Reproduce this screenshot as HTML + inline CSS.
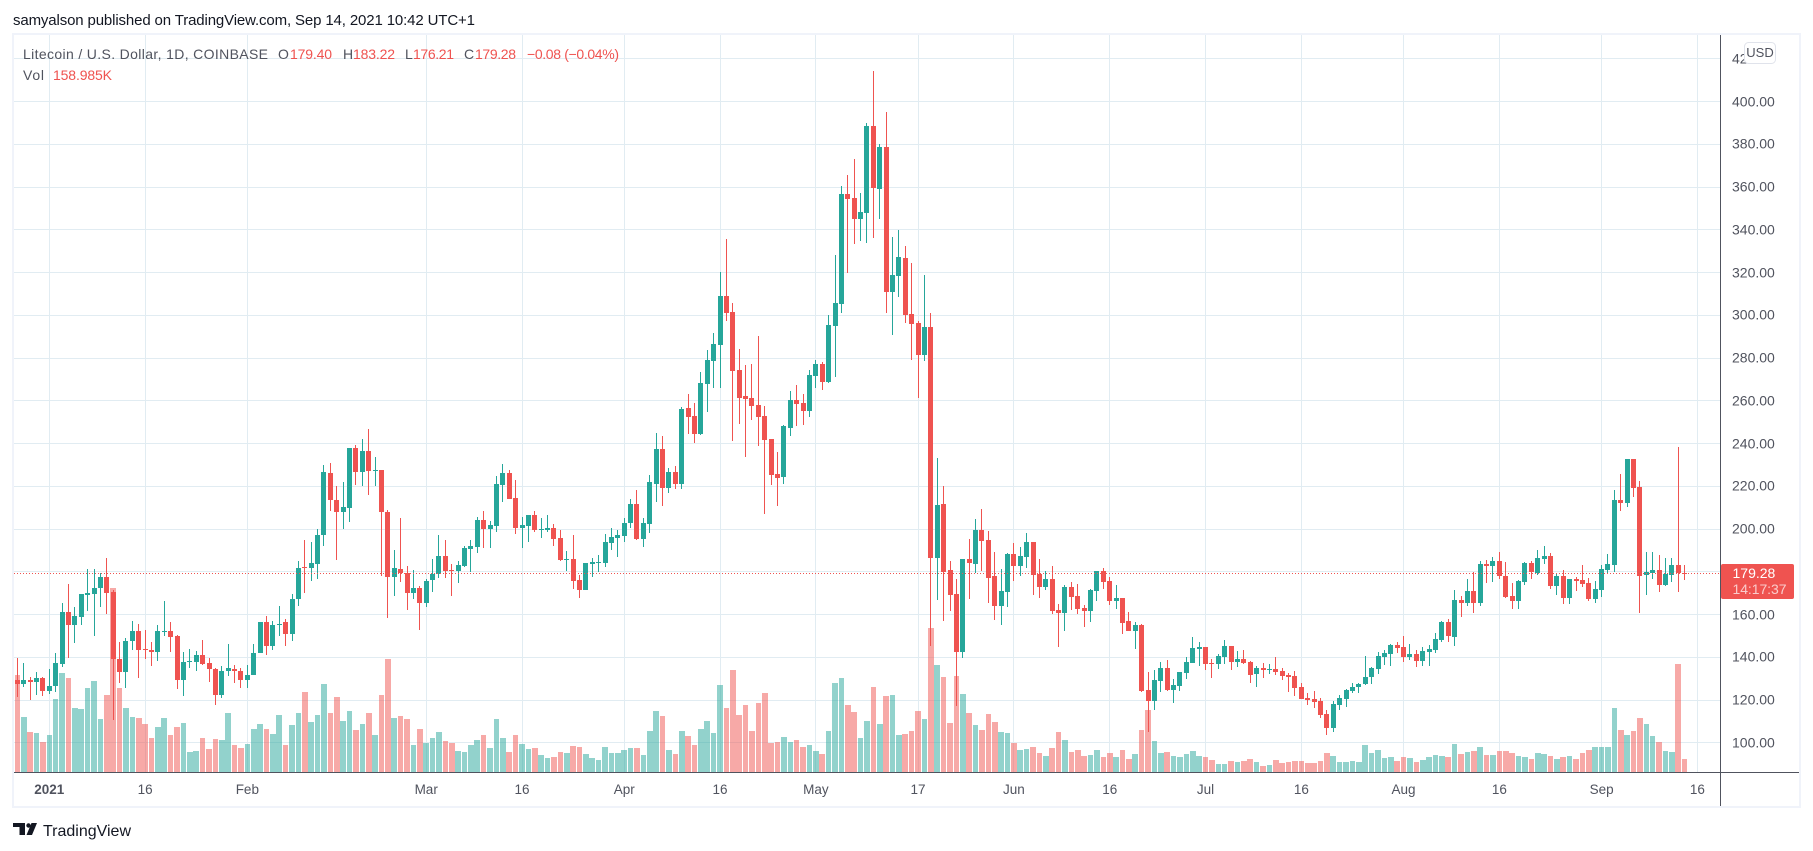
<!DOCTYPE html>
<html lang="en">
<head>
<meta charset="utf-8">
<title>Litecoin / U.S. Dollar chart</title>
<style>
html,body{margin:0;padding:0;background:#fff;width:1813px;height:851px;overflow:hidden}
svg{display:block}
text{font-family:"Liberation Sans",sans-serif}
</style>
</head>
<body>
<svg id="chart" xmlns="http://www.w3.org/2000/svg" width="1813" height="851" viewBox="0 0 1813 851">
  <rect x="0" y="0" width="1813" height="851" fill="#ffffff"/>
  <text x="13" y="25" font-size="15" fill="#131722" textLength="462" lengthAdjust="spacing">samyalson published on TradingView.com, Sep 14, 2021 10:42 UTC+1</text>
  <rect x="13" y="34" width="1787" height="773" fill="none" stroke="#f0f3fa" stroke-width="2"/>
  <g id="grid"></g>
  <g id="volumes"></g>
  <g id="candles"></g>
  <line x1="14" x2="1720" y1="573.5" y2="573.5" stroke="#ef5350" stroke-width="1" stroke-dasharray="1 2"/>
  <rect x="14" y="772" width="1785" height="1" fill="#50535e"/>
  <rect x="1720" y="35" width="1" height="771" fill="#50535e"/>
  <g id="priceLabels"></g>
  <g id="timeLabels"></g>
  <g font-size="14">
    <text x="23" y="59" fill="#50535e" textLength="245" lengthAdjust="spacing">Litecoin / U.S. Dollar, 1D, COINBASE</text>
    <text x="278" y="59" fill="#50535e">O</text>
    <text x="290" y="59" fill="#ef5350" textLength="42" lengthAdjust="spacing">179.40</text>
    <text x="343" y="59" fill="#50535e">H</text>
    <text x="353" y="59" fill="#ef5350" textLength="42" lengthAdjust="spacing">183.22</text>
    <text x="405" y="59" fill="#50535e">L</text>
    <text x="413" y="59" fill="#ef5350" textLength="41" lengthAdjust="spacing">176.21</text>
    <text x="464" y="59" fill="#50535e">C</text>
    <text x="475" y="59" fill="#ef5350" textLength="41" lengthAdjust="spacing">179.28</text>
    <text x="527" y="59" fill="#ef5350" textLength="92" lengthAdjust="spacing">−0.08 (−0.04%)</text>
    <text x="23" y="80" fill="#50535e" textLength="21" lengthAdjust="spacing">Vol</text>
    <text x="53" y="80" fill="#ef5350" textLength="59" lengthAdjust="spacing">158.985K</text>
  </g>
  <g>
    <rect x="1744.5" y="42.5" width="31" height="21" rx="4" fill="#ffffff" stroke="#e0e3eb"/>
    <text x="1760" y="57" font-size="13" text-anchor="middle" fill="#50535e">USD</text>
  </g>
  <g>
    <rect x="1721" y="564" width="73" height="35" rx="2" fill="#ef5350"/>
    <text x="1732.5" y="578" font-size="14" fill="#ffffff">179.28</text>
    <text x="1732.5" y="594" font-size="14" fill="#ffffff" fill-opacity="0.7" textLength="54" lengthAdjust="spacing">14:17:37</text>
  </g>
  <g>
    <path d="M13 823h12v12h-5.5v-8h-6.5z" fill="#131722"/>
    <circle cx="28.5" cy="825.5" r="2.2" fill="#131722"/>
    <path d="M31.5 823h5.5l-5 12h-5.5z" fill="#131722"/>
    <text x="43" y="836" font-size="16" fill="#131722" textLength="88" lengthAdjust="spacingAndGlyphs">TradingView</text>
  </g>
</svg>
<script>
// Data: first candle is 27 Dec 2020 (day -5 relative to 1 Jan 2021); one candle per day.
const firstDay = -5;
const opens = [
129.6,127.6,129.6,128.5,130.1,124.3,126.6,136.9,161.4,155.2,
158.9,169.2,169.7,172.5,177.8,170.4,139.4,133.2,147.7,152.5,
143.7,143.6,142.5,151.9,152.1,149.9,129.4,137.9,137.9,141.3,
137.1,134.7,122.4,133.6,134.7,133.8,129.4,131.8,142.1,156.3,
145.3,155.2,156.3,150.9,167.3,182.1,181.8,183.7,197.3,226.4,
213.8,208.0,209.9,237.7,226.7,236.7,227.2,227.8,208.2,177.6,
181.5,179.6,170.1,172.2,165.5,176.2,179.2,187.6,180.7,180.4,
182.8,190.7,191.7,204.1,200.1,201.3,220.5,226.1,214.4,200.6,
201.3,206.5,199.5,199.5,200.4,195.7,185.6,185.9,176.1,171.4,
183.7,184.0,184.0,193.4,195.7,196.6,202.7,211.6,195.2,202.3,
221.0,237.3,219.1,226.6,221.0,256.5,252.8,244.4,267.8,278.5,
286.0,308.9,301.5,274.3,262.2,261.2,257.9,252.8,242.0,225.6,
224.3,247.2,260.3,258.9,255.1,271.5,277.1,268.7,294.9,305.2,
356.6,354.8,344.9,347.8,388.5,359.0,378.6,310.8,318.3,326.7,
300.5,296.3,281.3,294.4,186.4,211.6,180.7,169.5,142.4,185.9,
183.5,199.4,194.8,177.9,163.9,170.4,188.2,182.6,186.8,193.8,
178.9,172.8,176.5,162.0,160.6,172.8,168.6,163.0,161.6,170.9,
180.3,175.6,166.2,167.6,156.9,152.2,155.0,124.6,119.4,128.8,
134.9,124.6,126.5,132.5,137.2,143.8,144.7,137.2,136.8,140.0,
145.2,137.7,139.1,137.7,132.1,134.9,134.0,134.4,133.5,131.6,
131.2,126.0,120.9,120.4,119.4,113.4,106.8,117.6,120.4,124.1,
126.0,127.4,130.7,134.4,140.0,141.6,145.7,144.7,140.0,141.4,
138.2,142.4,143.3,148.0,156.4,149.4,166.7,165.3,170.9,165.3,
183.5,182.6,184.9,177.9,168.6,166.2,175.1,184.0,179.3,185.9,
187.3,173.2,177.9,167.6,176.5,176.1,174.7,167.2,171.4,180.7,
183.1,213.5,212.1,232.7,219.6,178.4,179.3,180.7,173.7,178.4,
183.1,179.40];
const highs = [
139.6,137.2,130.7,133.0,130.8,134.3,142.2,165.3,174.5,163.4,
169.7,181.5,181.5,179.6,186.3,171.4,147.1,148.8,156.9,155.5,
153.0,147.1,155.0,166.2,156.4,150.6,142.4,143.8,142.8,148.0,
139.9,135.2,136.1,146.1,136.6,135.2,136.6,146.1,156.7,159.1,
157.2,164.2,157.7,169.5,184.9,195.1,193.8,200.2,229.9,231.1,
220.0,222.2,237.8,239.1,241.9,247.0,233.9,227.8,209.1,190.1,
205.4,182.9,180.7,173.2,176.7,185.9,197.0,194.8,183.6,184.9,
192.3,195.1,205.5,208.3,203.7,224.7,230.3,227.8,222.8,205.5,
206.8,208.3,205.1,206.5,202.3,199.5,189.6,197.1,178.4,184.0,
186.4,187.8,197.6,200.4,199.5,205.1,214.0,218.2,205.1,225.2,
244.8,243.4,228.5,229.4,257.0,263.1,258.9,273.4,283.6,291.6,
320.2,335.6,305.7,284.1,276.6,277.1,290.2,257.5,242.0,235.9,
248.6,264.5,267.3,263.1,274.3,279.0,278.1,300.0,328.1,360.4,
365.5,373.0,357.1,389.9,414.2,380.1,395.0,336.5,339.8,332.3,
324.4,297.2,318.8,301.0,233.1,220.0,184.9,176.5,185.9,195.2,
204.6,209.3,199.0,189.2,181.2,188.7,193.4,191.5,198.1,193.8,
185.9,180.3,182.6,164.8,173.7,175.1,174.2,164.4,171.8,180.3,
181.7,177.5,173.7,167.6,161.1,156.4,155.5,133.0,134.0,137.7,
138.6,129.7,133.0,140.0,149.4,147.1,144.7,139.1,141.4,148.0,
145.2,142.8,143.3,138.2,135.8,137.2,136.8,140.0,134.9,132.6,
133.5,127.9,123.2,124.1,120.9,115.2,119.4,122.3,125.1,127.9,
128.2,140.5,135.4,142.4,143.3,146.1,147.1,149.9,146.1,143.3,
144.7,145.7,151.3,156.9,157.8,171.4,168.6,176.5,179.8,184.9,
185.4,186.8,189.2,184.5,174.7,176.1,184.5,184.9,190.1,192.0,
188.7,179.3,180.7,176.5,177.5,183.1,177.0,175.6,183.1,188.2,
218.2,225.7,232.7,232.7,222.4,189.2,189.2,187.8,186.4,186.4,
238.3,183.22];
const lows = [
121.5,126.2,120.1,122.4,121.9,122.9,123.8,135.5,139.7,146.7,
155.3,161.7,150.0,163.6,160.3,110.7,128.0,125.5,143.3,130.2,
139.3,135.8,138.3,150.0,142.5,125.1,121.9,135.0,133.6,136.5,
128.5,117.7,121.0,131.3,128.0,125.7,125.7,131.8,142.2,141.1,
143.6,150.0,145.3,147.7,164.1,170.1,175.8,176.7,192.1,208.5,
185.6,200.1,203.4,220.5,220.2,216.0,220.0,178.2,158.4,168.7,
175.3,162.2,167.3,152.8,163.6,170.6,177.2,177.2,168.7,174.8,
182.3,179.9,188.8,191.0,191.0,198.7,212.7,214.0,197.6,191.0,
194.0,198.5,195.7,198.5,192.0,184.9,180.3,171.8,167.6,171.3,
177.5,179.8,182.1,190.1,186.8,193.8,200.4,194.8,191.5,198.1,
212.6,210.7,216.8,218.6,218.6,244.4,240.2,243.9,254.7,265.9,
265.9,297.2,241.1,249.1,233.8,250.9,238.8,206.9,220.5,210.7,
221.0,243.4,248.1,248.6,252.3,265.9,264.9,268.2,271.0,301.0,
319.7,333.3,334.7,333.7,336.1,344.9,301.0,290.7,308.5,296.3,
279.0,261.2,278.5,145.2,166.7,156.9,161.6,117.1,139.6,167.2,
179.3,180.3,165.3,157.3,155.0,163.4,175.6,177.9,181.7,169.0,
167.6,171.4,160.2,144.7,152.2,162.0,160.2,154.1,156.4,166.2,
171.8,164.4,162.5,150.8,152.2,143.8,123.7,104.9,115.2,123.7,
124.1,118.5,124.1,129.7,137.2,135.8,134.0,130.2,134.4,136.8,
134.0,135.4,136.8,127.9,126.0,130.2,132.1,131.6,129.3,123.7,
121.8,120.4,117.6,116.2,111.5,103.5,105.0,115.2,116.6,123.2,
123.2,127.0,127.4,132.1,136.3,135.8,141.9,137.7,138.6,135.4,
135.8,135.8,141.9,147.1,147.1,145.2,158.8,163.9,160.6,163.9,
174.7,175.1,176.5,167.6,162.5,162.5,173.7,176.5,178.4,183.5,
171.8,169.0,164.8,164.8,170.9,172.8,166.2,165.3,168.1,179.3,
179.8,208.3,210.2,214.9,160.6,169.0,176.5,170.4,173.2,175.1,
170.4,176.21];
const closes = [
127.6,129.6,128.5,130.1,124.3,126.8,137.1,161.4,155.2,159.1,
169.5,170.0,172.6,177.8,170.1,139.3,133.2,147.4,152.5,143.5,
143.3,142.5,152.1,152.2,149.6,129.4,138.0,138.2,141.3,136.9,
134.6,122.4,133.8,135.2,133.6,129.4,131.9,142.2,156.4,145.3,
155.3,155.8,150.9,167.5,182.0,181.7,183.9,197.4,226.9,213.6,
208.0,210.1,237.7,226.7,236.7,227.2,227.8,208.0,177.6,182.0,
179.5,170.1,172.2,165.5,175.9,179.2,187.6,180.4,180.3,183.1,
191.0,192.0,204.1,200.1,201.8,221.0,226.1,214.1,200.6,201.8,
206.5,199.6,200.0,200.4,195.2,185.4,185.9,175.6,171.4,183.9,
184.5,184.5,193.8,196.2,197.1,202.7,211.6,195.2,202.7,221.9,
237.3,219.1,226.6,221.0,256.1,252.3,244.4,268.2,279.0,286.5,
308.9,301.0,273.9,261.2,260.7,257.5,252.3,241.6,225.2,223.8,
248.1,260.3,258.4,255.1,272.0,277.1,268.7,295.4,305.7,356.6,
354.3,344.9,348.2,388.5,359.5,378.6,310.8,318.8,327.2,300.0,
295.8,281.3,294.4,186.4,211.2,179.8,169.0,142.4,185.9,184.0,
199.4,194.3,177.0,163.9,170.9,188.2,182.6,187.3,193.8,178.4,
172.8,176.5,161.6,160.6,172.8,168.1,162.5,161.6,171.4,180.3,
175.1,166.2,167.6,155.9,152.2,155.0,124.1,119.4,129.3,134.9,
124.6,126.9,133.0,137.7,144.2,144.7,136.8,136.8,140.5,145.2,
137.7,139.1,137.2,131.6,134.9,134.0,134.4,133.0,131.2,130.7,
125.5,120.4,119.9,119.0,112.9,106.8,118.0,120.9,124.6,126.3,
127.7,131.0,134.9,140.4,141.9,145.7,144.2,140.0,141.4,138.2,
142.8,143.8,148.5,156.4,149.9,166.7,165.3,170.9,165.3,183.5,
182.6,184.9,177.9,168.1,166.2,175.6,184.0,179.8,186.4,187.3,
173.2,177.9,167.6,176.5,175.6,174.2,167.2,171.8,181.2,183.5,
213.5,212.1,232.7,219.1,177.9,179.8,180.7,173.7,178.9,183.1,
179.4,179.28];
const volumes = [
1168,664,484,472,364,448,880,1192,1132,772,
760,1012,1096,640,928,2212,1012,772,664,652,
580,412,544,652,448,544,592,244,256,412,
280,400,388,712,328,292,340,520,580,520,
460,688,328,568,712,964,604,688,1060,712,
904,616,736,508,580,712,448,928,1360,652,
676,640,328,520,352,412,484,376,352,256,
244,328,388,448,292,640,412,244,448,340,
280,292,208,172,184,244,232,316,304,220,
172,148,304,232,232,268,292,292,208,496,
736,676,268,220,496,436,328,520,616,472,
1048,772,1228,688,808,496,832,952,352,364,
424,364,388,304,328,256,220,496,1072,1132,
808,724,412,616,1024,580,916,928,448,460,
496,736,640,1732,1288,1144,592,1156,940,712,
568,508,700,604,484,472,352,268,280,304,
232,196,292,484,388,244,268,196,208,268,
184,232,184,268,160,220,508,748,376,232,
244,196,184,220,256,196,184,148,100,100,
136,124,136,160,124,76,88,148,112,124,
136,136,112,112,136,232,196,124,124,136,
124,328,232,268,172,184,136,184,172,124,
148,184,208,196,184,340,220,244,256,304,
208,208,256,256,232,196,184,160,232,220,
196,160,184,196,160,232,268,304,304,304,
772,508,448,496,652,580,436,364,256,244,
1300,159];
const priceTicks = [420,400,380,360,340,320,300,280,260,240,220,200,160,140,120,100];
const gridPriceTicks = [420,400,380,360,340,320,300,280,260,240,220,200,180,160,140,120,100];
const timeTickDays = [0,15,31,59,74,90,105,120,136,151,166,181,196,212,227,243,258];
const timeTickLabels = ['2021','16','Feb','Mar','16','Apr','16','May','17','Jun','16','Jul','16','Aug','16','Sep','16'];

const UP_COLOR = '#26a69a';
const DOWN_COLOR = '#ef5350';
const NS = 'http://www.w3.org/2000/svg';

function xScale(day) { return 49.3 + 6.388 * day; }
function yScale(price) { return 742.8 - (price - 100) * 2.1375; }
function volumeHeight(volume) { return volume / 12; }

function make(tag, parent) {
  const el = document.createElementNS(NS, tag);
  parent.appendChild(el);
  return el;
}
function setRect(el, x, y, w, h, fill) {
  el.setAttribute('x', x);
  el.setAttribute('y', y);
  el.setAttribute('width', w);
  el.setAttribute('height', h);
  el.setAttribute('fill', fill);
  el.setAttribute('shape-rendering', 'crispEdges');
}

const gridGroup = document.getElementById('grid');
const volumeGroup = document.getElementById('volumes');
const candleGroup = document.getElementById('candles');
const priceLabelGroup = document.getElementById('priceLabels');
const timeLabelGroup = document.getElementById('timeLabels');

gridPriceTicks.forEach(function (tick) {
  const line = make('rect', gridGroup);
  
  
  setRect(line, 14, Math.floor(yScale(tick)), 1706, 1, '#e1ecf2');
});
timeTickDays.forEach(function (day) {
  const line = make('rect', gridGroup);
  
  
  setRect(line, Math.floor(xScale(day)), 35, 1, 737, '#e1ecf2');
});

priceTicks.forEach(function (tick) {
  const label = make('text', priceLabelGroup);
  
  
  label.setAttribute('x', 1732);
  label.setAttribute('y', Math.round(yScale(tick)) + 4.5);
  label.setAttribute('font-size', '14');
  label.setAttribute('fill', '#50535e');
  label.textContent = tick.toFixed(2);
});

timeTickDays.forEach(function (day, i) {
  const label = make('text', timeLabelGroup);
  
  
  label.setAttribute('x', xScale(day));
  label.setAttribute('y', 794);
  label.setAttribute('font-size', '13.5');
  label.setAttribute('text-anchor', 'middle');
  label.setAttribute('fill', '#50535e');
  if (i === 0) {
    label.setAttribute('font-weight', 'bold');
  }
  label.textContent = timeTickLabels[i];
});

volumes.forEach(function (volume, i) {
  const cx = xScale(firstDay + i);
  const color = closes[i] >= opens[i] ? UP_COLOR : DOWN_COLOR;
  const left = Math.max(14, Math.round(cx - 2.8));
  const right = Math.round(cx + 2.8);
  const h = Math.round(volumeHeight(volume));
  const bar = make('rect', volumeGroup);
  
  
  setRect(bar, left, 772 - h, right - left, h, color);
  bar.setAttribute('fill-opacity', '0.5');
});

opens.forEach(function (open, i) {
  const close = closes[i];
  const cx = Math.floor(xScale(firstDay + i));
  const color = close >= open ? UP_COLOR : DOWN_COLOR;
  const hiY = Math.round(yScale(highs[i]));
  const loY = Math.round(yScale(lows[i]));
  const topY = Math.round(yScale(Math.max(open, close)));
  const botY = Math.round(yScale(Math.min(open, close)));
  const wick = make('rect', candleGroup);
  
  
  setRect(wick, cx, hiY, 1, Math.max(1, loY - hiY), color);
  const body = make('rect', candleGroup);
  
  
  setRect(body, cx - 2, topY, 5, Math.max(1, botY - topY), color);
});
</script>
</body>
</html>
